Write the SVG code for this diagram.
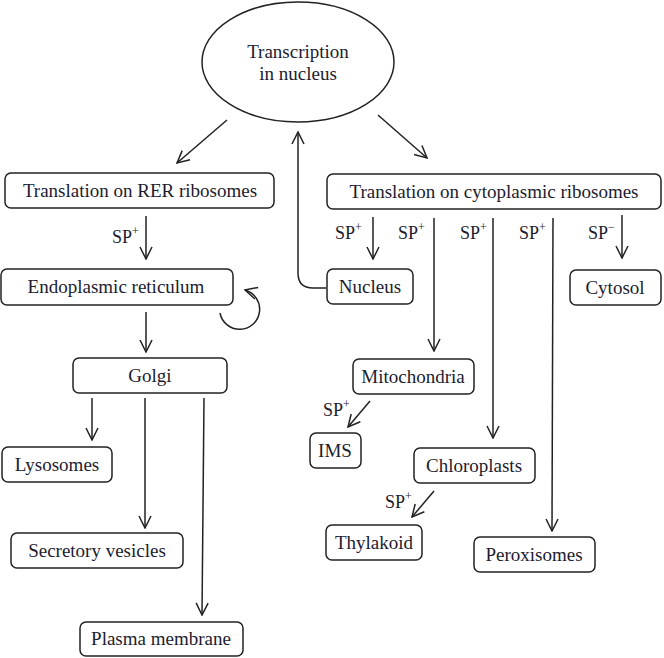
<svg xmlns="http://www.w3.org/2000/svg" width="664" height="658" viewBox="0 0 664 658">
<style>
.box{fill:#fff;stroke:#222;stroke-width:1.5}
.t{font-family:"Liberation Serif","Times New Roman",serif;font-size:19px;fill:#1c1c30;text-anchor:middle}
.sp{font-family:"Liberation Serif","Times New Roman",serif;font-size:18px;fill:#1c1c30}
.sup{font-size:12px}
.ln{fill:none;stroke:#222;stroke-width:1.5}
</style>
<defs>
<marker id="ah" viewBox="0 0 14 14" refX="13" refY="7" markerWidth="14" markerHeight="14" orient="auto" markerUnits="userSpaceOnUse">
<path d="M1,1 L13,7 L1,13" fill="none" stroke="#222" stroke-width="1.5"/>
</marker>
</defs>
<rect width="664" height="658" fill="#fff"/>
<g id="connectors">
<line class="ln" x1="227" y1="120" x2="177" y2="163" marker-end="url(#ah)"/>
<line class="ln" x1="378" y1="115" x2="427" y2="158" marker-end="url(#ah)"/>
<path class="ln" d="M326,288 L313,288 Q298,288 298,273 L298,132" marker-end="url(#ah)"/>
<line class="ln" x1="146" y1="216" x2="146" y2="259" marker-end="url(#ah)"/>
<path class="ln" d="M220,313 A20,20 0 1 0 245,290" marker-end="url(#ah)"/>
<line class="ln" x1="146" y1="312" x2="146" y2="352" marker-end="url(#ah)"/>
<line class="ln" x1="92" y1="398" x2="92" y2="440" marker-end="url(#ah)"/>
<line class="ln" x1="145" y1="398" x2="145" y2="528" marker-end="url(#ah)"/>
<line class="ln" x1="204" y1="398" x2="202" y2="615" marker-end="url(#ah)"/>
<line class="ln" x1="373" y1="217" x2="373" y2="259" marker-end="url(#ah)"/>
<line class="ln" x1="434" y1="218" x2="434" y2="351" marker-end="url(#ah)"/>
<line class="ln" x1="493" y1="218" x2="493" y2="438" marker-end="url(#ah)"/>
<line class="ln" x1="553" y1="218" x2="552" y2="531" marker-end="url(#ah)"/>
<line class="ln" x1="622" y1="215" x2="622" y2="258" marker-end="url(#ah)"/>
<line class="ln" x1="370" y1="401" x2="348" y2="427" marker-end="url(#ah)"/>
<line class="ln" x1="434" y1="491" x2="412" y2="517" marker-end="url(#ah)"/>
</g>
<g id="labels">
<text class="sp" x="112" y="243">SP<tspan class="sup" dy="-8">+</tspan></text>
<text class="sp" x="335" y="239">SP<tspan class="sup" dy="-8">+</tspan></text>
<text class="sp" x="398" y="239">SP<tspan class="sup" dy="-8">+</tspan></text>
<text class="sp" x="460" y="239">SP<tspan class="sup" dy="-8">+</tspan></text>
<text class="sp" x="519" y="239">SP<tspan class="sup" dy="-8">+</tspan></text>
<text class="sp" x="588" y="239">SP<tspan class="sup" dy="-8">−</tspan></text>
<text class="sp" x="323" y="416">SP<tspan class="sup" dy="-8">+</tspan></text>
<text class="sp" x="385" y="508">SP<tspan class="sup" dy="-8">+</tspan></text>
</g>
<g id="transcription">
<ellipse cx="298" cy="62" rx="96" ry="60" class="box"/>
<text class="t" x="298" y="58">Transcription</text>
<text class="t" x="298" y="80">in nucleus</text>
</g>
<g id="rer"><rect class="box" x="5" y="173" width="269" height="35" rx="6"/><text class="t" x="140" y="197">Translation on RER ribosomes</text></g>
<g id="er"><rect class="box" x="1" y="269" width="232" height="36" rx="6"/><text class="t" x="116" y="293">Endoplasmic reticulum</text></g>
<g id="golgi"><rect class="box" x="73" y="358" width="154" height="35" rx="6"/><text class="t" x="150" y="382">Golgi</text></g>
<g id="lysosomes"><rect class="box" x="2" y="447" width="110" height="35" rx="6"/><text class="t" x="57" y="471">Lysosomes</text></g>
<g id="secretory"><rect class="box" x="11" y="533" width="172" height="35" rx="6"/><text class="t" x="97" y="557">Secretory vesicles</text></g>
<g id="plasma"><rect class="box" x="80" y="622" width="163" height="34" rx="6"/><text class="t" x="161" y="645">Plasma membrane</text></g>
<g id="cyto"><rect class="box" x="327" y="174" width="334" height="35" rx="6"/><text class="t" x="494" y="198">Translation on cytoplasmic ribosomes</text></g>
<g id="nucleus"><rect class="box" x="327" y="269" width="86" height="35" rx="6"/><text class="t" x="370" y="293">Nucleus</text></g>
<g id="cytosol"><rect class="box" x="570" y="270" width="91" height="35" rx="6"/><text class="t" x="615" y="294">Cytosol</text></g>
<g id="mito"><rect class="box" x="353" y="359" width="121" height="35" rx="6"/><text class="t" x="413" y="383">Mitochondria</text></g>
<g id="ims"><rect class="box" x="310" y="433" width="51" height="35" rx="6"/><text class="t" x="335" y="457">IMS</text></g>
<g id="chloro"><rect class="box" x="414" y="448" width="121" height="35" rx="6"/><text class="t" x="474" y="472">Chloroplasts</text></g>
<g id="thylakoid"><rect class="box" x="326" y="525" width="96" height="35" rx="6"/><text class="t" x="374" y="549">Thylakoid</text></g>
<g id="peroxisomes"><rect class="box" x="474" y="537" width="121" height="35" rx="6"/><text class="t" x="534" y="561">Peroxisomes</text></g>
</svg>
